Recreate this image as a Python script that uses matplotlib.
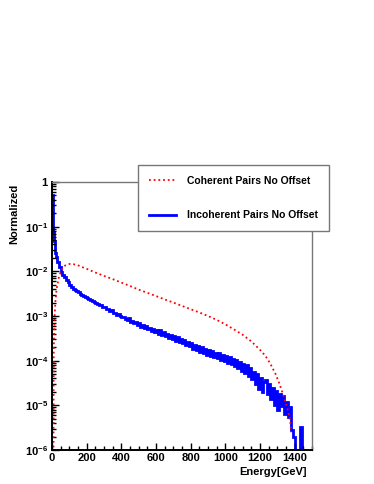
import numpy as np
import matplotlib
matplotlib.use('Agg')
import matplotlib.pyplot as plt
from matplotlib.ticker import FixedLocator, FixedFormatter, LogLocator, NullFormatter

plt.rcParams['font.family'] = ['Liberation Sans', 'DejaVu Sans']
plt.rcParams['font.weight'] = 'bold'
plt.rcParams['mathtext.fontset'] = 'custom'
plt.rcParams['mathtext.rm'] = 'Liberation Sans:bold'
plt.rcParams['mathtext.it'] = 'Liberation Sans:bold'
plt.rcParams['mathtext.bf'] = 'Liberation Sans:bold'

# coherent pairs (smooth curve, energy in GeV)
coh_energy = [8, 10, 15, 20, 25, 30, 40, 50, 60, 70, 80, 90, 100, 110, 120, 140, 160,
              180, 200, 250, 300, 350, 400, 450, 500, 550, 600, 650, 700, 750, 800,
              850, 900, 950, 1000, 1050, 1100, 1150, 1200, 1230, 1260, 1290, 1310,
              1330, 1350, 1365, 1375, 1380]
coh_value = [1e-7, 2e-4, 1e-3, 2.2e-3, 3.5e-3, 4.8e-3, 7.4e-3, 9.6e-3, 1.15e-2, 1.3e-2,
             1.38e-2, 1.43e-2, 1.46e-2, 1.47e-2, 1.45e-2, 1.4e-2, 1.32e-2, 1.22e-2,
             1.14e-2, 9.4e-3, 7.9e-3, 6.7e-3, 5.6e-3, 4.7e-3, 3.9e-3, 3.3e-3, 2.8e-3,
             2.35e-3, 2.0e-3, 1.68e-3, 1.42e-3, 1.2e-3, 1.0e-3, 8.2e-4, 6.5e-4, 5.0e-4,
             3.8e-4, 2.7e-4, 1.75e-4, 1.3e-4, 8.5e-5, 5.0e-5, 3.2e-5, 1.9e-5, 1.1e-5,
             6.8e-6, 4.2e-6, 2.5e-6]

# incoherent pairs histogram
inc_edges = [0, 3, 6, 10, 15, 20, 25, 30, 40, 50, 60] + list(range(70, 1451, 10))
inc_value = [
    0.5, 0.14, 0.075, 0.048, 0.034, 0.026, 0.021, 0.0165, 0.0125, 0.0098,
    8.3e-3, 7.3e-3, 6.5e-3, 5.7e-3, 5.0e-3, 4.45e-3, 4.1e-3, 3.8e-3, 3.62e-3, 3.38e-3,
    3.18e-3, 2.93e-3, 2.8e-3, 2.6e-3, 2.52e-3, 2.37e-3, 2.29e-3, 2.14e-3, 2.08e-3, 1.93e-3,
    1.88e-3, 1.72e-3, 1.74e-3, 1.55e-3, 1.56e-3, 1.40e-3, 1.44e-3, 1.27e-3, 1.33e-3, 1.17e-3,
    1.18e-3, 1.03e-3, 1.10e-3, 0.99e-3, 0.93e-3, 9.4e-4, 8.6e-4, 8.0e-4, 8.8e-4, 7.3e-4,
    7.9e-4, 6.8e-4, 7.4e-4, 6.2e-4, 6.9e-4, 5.8e-4, 6.4e-4, 5.3e-4, 6.0e-4, 5.0e-4,
    5.5e-4, 4.6e-4, 5.2e-4, 4.3e-4, 4.9e-4, 3.9e-4, 4.9e-4, 3.7e-4, 4.3e-4, 3.6e-4,
    4.0e-4, 3.3e-4, 3.8e-4, 3.05e-4, 3.55e-4, 2.8e-4, 3.35e-4, 2.6e-4, 3.1e-4, 2.45e-4,
    2.9e-4, 2.25e-4, 2.65e-4, 2.1e-4, 2.5e-4, 1.85e-4, 2.3e-4, 1.75e-4, 2.15e-4, 1.6e-4,
    2.0e-4, 1.5e-4, 1.85e-4, 1.35e-4, 1.75e-4, 1.3e-4, 1.62e-4, 1.18e-4, 1.52e-4, 1.12e-4,
    1.45e-4, 1.05e-4, 1.36e-4, 0.98e-4, 1.28e-4, 0.9e-4, 1.2e-4, 8.4e-5, 1.1e-4, 7.6e-5,
    1.02e-4, 6.8e-5, 9.4e-5, 6.0e-5, 8.6e-5, 5.4e-5, 7.8e-5, 4.6e-5, 6.9e-5, 3.8e-5,
    5.6e-5, 3.0e-5, 5.0e-5, 2.3e-5, 4.0e-5, 2.0e-5, 3.4e-5, 3.6e-5, 1.75e-5, 3.0e-5,
    1.4e-5, 2.4e-5, 1.0e-5, 2.1e-5, 8.0e-6, 1.8e-5, 9.5e-6, 1.6e-5, 6.5e-6, 1.2e-5,
    5.5e-6, 9.0e-6, 2.8e-6, 2.0e-6, 1e-9, 1e-9, 1e-9, 3.3e-6, 1e-9]

x_ticks = [0, 200, 400, 600, 800, 1000, 1200, 1400]
y_ticks = [1e-6, 1e-5, 1e-4, 1e-3, 1e-2, 1e-1, 1]
y_labels = [r'$10^{-6}$', r'$10^{-5}$', r'$10^{-4}$', r'$10^{-3}$', r'$10^{-2}$',
            r'$10^{-1}$', '1']

fig = plt.figure(figsize=(3.74, 4.84), dpi=100)
ax = fig.add_axes([52 / 374, 1 - 450 / 484, 260 / 374, 268 / 484])

ax.plot(coh_energy, coh_value, color='#ff0000', lw=1.3, ls=(0, (1, 1.6)),
        label='Coherent Pairs No Offset')
ax.stairs(inc_value, inc_edges, color='#0000ff', lw=2.0, baseline=None,
          label='Incoherent Pairs No Offset')

ax.set_yscale('log')
ax.set_xlim(0, 1500)
ax.set_ylim(1e-6, 1)

ax.xaxis.set_major_locator(FixedLocator(x_ticks))
ax.xaxis.set_minor_locator(FixedLocator(list(range(0, 1501, 50))))
ax.yaxis.set_major_locator(FixedLocator(y_ticks))
ax.yaxis.set_major_formatter(FixedFormatter(y_labels))
ax.yaxis.set_minor_locator(LogLocator(base=10, subs=np.arange(2, 10), numticks=20))
ax.yaxis.set_minor_formatter(NullFormatter())

ax.tick_params(which='both', direction='in', top=False, right=False, labelsize=8,
               width=1)
ax.tick_params(which='major', length=5)
ax.tick_params(which='minor', length=3)
ax.tick_params(axis='x', pad=2)
ax.tick_params(axis='y', pad=3)

for s in ['left', 'bottom']:
    ax.spines[s].set_color('black')
    ax.spines[s].set_linewidth(1.4)
for s in ['top', 'right']:
    ax.spines[s].set_color('#777777')
    ax.spines[s].set_linewidth(1.0)

ax.set_xlabel('Energy[GeV]', fontsize=8, fontweight='bold', loc='right')
ax.xaxis.set_label_coords(0.98, -0.062)
ax.set_ylabel('Normalized', fontsize=8, fontweight='bold', loc='top')
ax.yaxis.set_label_coords(-0.125, 0.995)

leg = ax.legend(loc='upper left', bbox_to_anchor=(138 / 374, 1 - 165 / 484),
                bbox_transform=fig.transFigure, borderaxespad=0, fancybox=False,
                labelspacing=2.35, borderpad=1.05, handlelength=2.6,
                handletextpad=1.05, prop={'weight': 'bold', 'size': 7.5})
leg.get_frame().set_edgecolor('#777777')
leg.get_frame().set_linewidth(1.0)
leg.get_frame().set_alpha(1)
leg.set_zorder(10)

fig.savefig('out.png', dpi=100, facecolor='white')
